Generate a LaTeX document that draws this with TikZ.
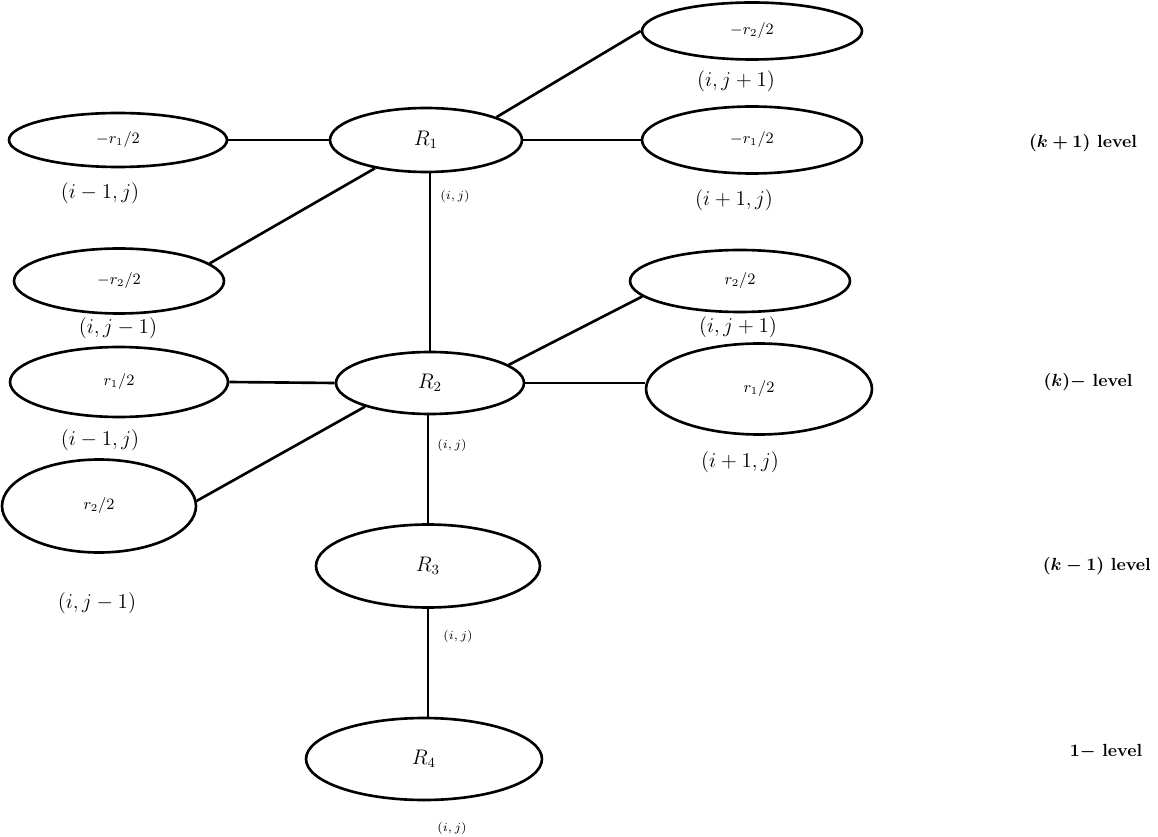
\documentclass[tikz,border=0pt]{standalone}
\usepackage{tikz}
\usetikzlibrary{positioning,shapes.geometric}

\tikzset{
  cell/.style 2 args={ellipse, draw, line width=1.5pt, inner sep=0pt,
    minimum width=#1, minimum height=#2, font=\small},
  rnode/.style 2 args={cell={#1}{#2}, font=\large},
  site/.style={font=\large},
  idx/.style={font=\scriptsize},
  lvl/.style={font=\normalsize\bfseries\boldmath},
  link/.style={line width=1.5pt}
}

\begin{document}
\begin{tikzpicture}[x=0.02cm, y=-0.02cm]
\useasboundingbox (0,0) rectangle (1158,837);
% (k+1) level
\node[rnode={3.84cm}{1.28cm}] (R1) at (426,140) {$R_1$};
\node[cell={4.36cm}{1.08cm}] (a1) at (118,140) {$-r_1/2$};
\node[cell={4.4cm}{1.14cm}] (b1) at (752,31) {$-r_2/2$};
\node[cell={4.4cm}{1.34cm}] (c1) at (752,140) {$-r_1/2$};
\node[cell={4.2cm}{1.3cm}] (d1) at (119,281) {$-r_2/2$};
\node[site] (a1l) at (100,193) {$(i-1,j)$};
\node[site] (b1l) at (736,81) {$(i,j+1)$};
\node[site] (c1l) at (734,200) {$(i+1,j)$};
\node[site] (d1l) at (118,328) {$(i,j-1)$};
\node[idx] (R1l) at (455,196) {$(i,j)$};
% k level
\node[rnode={3.76cm}{1.24cm}] (R2) at (430,383) {$R_2$};
\node[cell={4.36cm}{1.4cm}] (a2) at (119,382) {$r_1/2$};
\node[cell={4.4cm}{1.24cm}] (b2) at (740,281) {$r_2/2$};
\node[cell={4.52cm}{1.82cm}] (c2) at (759,389) {$r_1/2$};
\node[cell={3.88cm}{1.86cm}] (d2) at (99,506) {$r_2/2$};
\node[site] (a2l) at (100,440) {$(i-1,j)$};
\node[site] (b2l) at (738,327) {$(i,j+1)$};
\node[site] (c2l) at (740,462) {$(i+1,j)$};
\node[site] (d2l) at (97,603) {$(i,j-1)$};
\node[idx] (R2l) at (452,445) {$(i,j)$};
% lower levels
\node[rnode={4.48cm}{1.66cm}] (R3) at (428,566) {$R_3$};
\node[rnode={4.72cm}{1.64cm}] (R4) at (424,759) {$R_4$};
\node[idx] (R3l) at (458,636) {$(i,j)$};
\node[idx] (R4l) at (452,828) {$(i,j)$};
% levels
\node[lvl] (L1) at (1083,143) {$(k+1)$ level};
\node[lvl] (L2) at (1088,382) {$(k)-$ level};
\node[lvl, anchor=east] (L3) at (1157,566) {$(k-1)$ level};
\node[lvl] (L4) at (1106,752) {$1-$ level};
% links
\draw[link] (a1.east) -- (R1.west);
\draw[link] (R1.18) -- (b1.west);
\draw[link] (R1.east) -- (c1.west);
\draw[link] (R1.209) -- (d1.11);
\draw[link] (R2.north) -- (R2.north |- R1.south);
\draw[link] (R2.13) -- (b2.189);
\draw[link] (a2.east) -- (R2.west);
\draw[link] (R2.east) -- (c2.west |- R2.east);
\draw[link] (R2.200) -- (d2.3);
\draw[link] (R3.north) -- (R3.north |- R2.south);
\draw[link] (R3.south) -- (R3.south |- R4.north);
\end{tikzpicture}
\end{document}
